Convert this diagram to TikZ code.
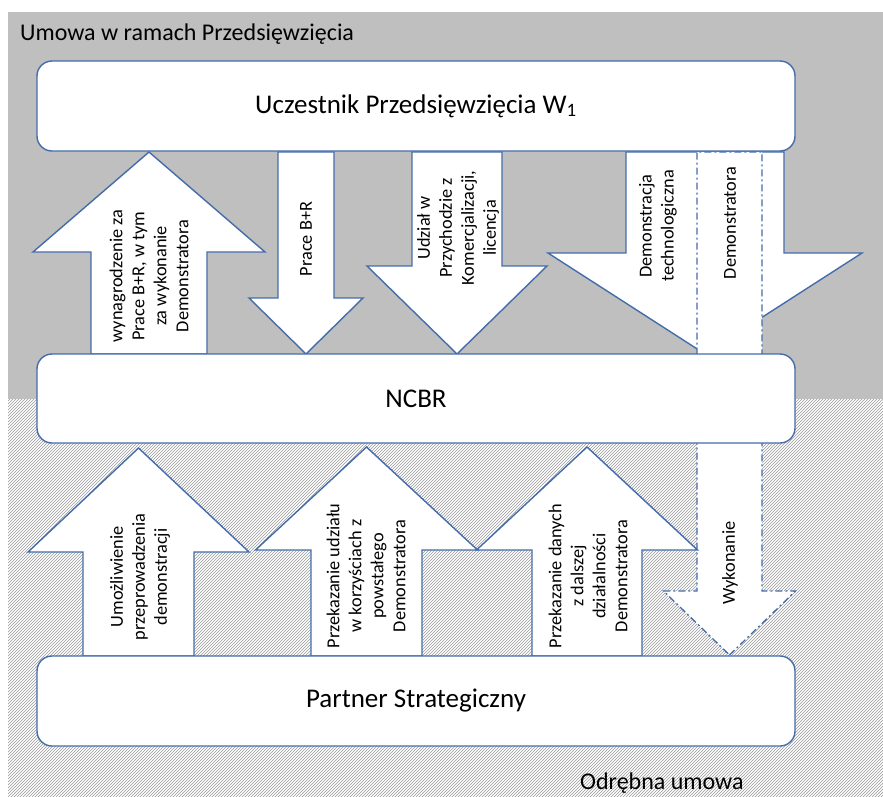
\documentclass[tikz,border=0pt]{standalone}
\usepackage{fontspec}
\setmainfont{Carlito}
\usetikzlibrary{patterns}
\definecolor{edge}{RGB}{68,108,170}
\definecolor{bggray}{RGB}{191,191,191}
\newcommand\blkarrow[7]{\draw[#1] (#2,#3) -- ({#2+#7},#4) -- ({#2+#6},#4) -- ({#2+#6},#5) -- ({#2-#6},#5) -- ({#2-#6},#4) -- ({#2-#7},#4) -- cycle;}
\begin{document}
\begin{tikzpicture}[x=1pt,y=-1pt,
  blk/.style={fill=white,draw=edge,line width=1.4pt,line join=miter},
  dashblk/.style={fill=white,draw=edge,line width=1.3pt,dash pattern=on 7pt off 3pt on 2pt off 3pt},
  box/.style={draw=edge,fill=white,line width=1.4pt,rounded corners=15pt,minimum width=758pt,font=\fontsize{27}{31}\selectfont},
  lbl/.style={rotate=90,align=center,inner sep=0pt,font=\fontsize{18.3}{22}\selectfont},
  zone/.style={inner sep=0pt,font=\fontsize{24}{28}\selectfont}]
\useasboundingbox (0,0) rectangle (883,796);
\fill[white] (0,0) rectangle (883,796);
\fill[bggray] (8,12) rectangle (883,399);
\fill[white] (8,399) rectangle (883,796);
\fill[pattern=north east lines,pattern color=black!40] (8,399) rectangle (883,796);
\node[zone,anchor=base west] (zone1) at (20,40) {Umowa w ramach Przedsięwzięcia};
\node[zone,anchor=base west] (zone2) at (580,789) {Odrębna umowa};
% upper arrows
\blkarrow{blk}{149}{152}{252}{354}{58}{116}
\blkarrow{blk}{306}{354}{298}{152}{28}{57}
\blkarrow{blk}{457}{354}{266}{152}{45}{90}
\blkarrow{blk}{705}{354}{253}{152}{79}{157}
\blkarrow{dashblk}{729.5}{655}{591}{152}{32.5}{66}
% lower arrows
\blkarrow{blk}{138.5}{448}{552}{656}{55.5}{110.5}
\blkarrow{blk}{366.5}{447}{550}{656}{55.5}{111}
\blkarrow{blk}{587}{447}{550}{656}{55}{110.5}
% boxes
\node[box,minimum height=90pt] (w1) at (416,106) {Uczestnik Przedsięwzięcia W\textsubscript{1}};
\node[box,minimum height=89pt] (ncbr) at (416,398.5) {NCBR};
\node[box,minimum height=90pt] (ps) at (416,701) {Partner Strategiczny};
% labels
\node[lbl] (t1) at (149,276) {wynagrodzenie za\\Prace B+R, w tym\\za wykonanie\\Demonstratora};
\node[lbl] (t2) at (306,239) {Prace B+R};
\node[lbl] (t3) at (458,228) {Udział w\\Przychodzie z\\Komercjalizacji,\\licencja};
\node[lbl] (t4) at (658,226) {Demonstracja\\technologiczna};
\node[lbl] (t5) at (730,223) {Demonstratora};
\node[lbl] (t6) at (730,563) {Wykonanie};
\node[lbl] (t7) at (140,577) {Umożliwienie\\przeprowadzenia\\demonstracji};
\node[lbl] (t8) at (366,576) {Przekazanie udziału\\w korzyściach z\\powstałego\\Demonstratora};
\node[lbl] (t9) at (588,576) {Przekazanie danych\\z dalszej\\działalności\\Demonstratora};
\end{tikzpicture}
\end{document}
